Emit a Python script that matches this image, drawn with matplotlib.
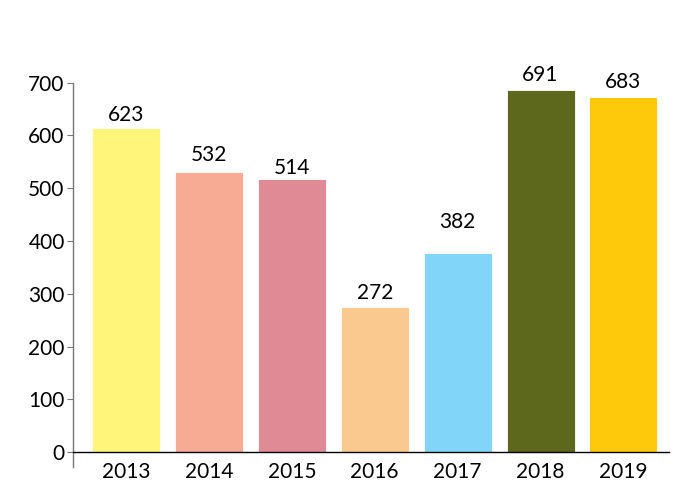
import numpy as np
import matplotlib
matplotlib.use("Agg")
import matplotlib.pyplot as plt

# data
years = ["2013", "2014", "2015", "2016", "2017", "2018", "2019"]
heights = [615, 531, 517, 275, 377, 687, 673]
labels = ["623", "532", "514", "272", "382", "691", "683"]
colors = ["#FFF57B", "#F8AB94", "#DF8A94", "#FAC990", "#81D5F8", "#5E681D", "#FEC90B"]
yticks = [0, 100, 200, 300, 400, 500, 600, 700]

# distance from bar top to label centre, in points
label_gap = [9, 12, 8, 10.3, 22.7, 10.3, 11]

plt.rcParams['font.family'] = ['Lato', 'DejaVu Sans']

fig = plt.figure(figsize=(6.96, 5.04), dpi=100)
ax = fig.add_axes([73 / 696, (504 - 467) / 504, 596 / 696, (467 - 82.7) / 504])

x = np.arange(len(years))
bars = ax.bar(x, heights, width=0.82, color=colors, edgecolor="white", linewidth=0.6)

for b, lab, g in zip(bars, labels, label_gap):
    ax.annotate(lab, (b.get_x() + b.get_width() / 2, b.get_height()),
                xytext=(0, g), textcoords="offset points",
                ha="center", va="center", fontsize=15)

ax.set_xlim(-0.64, 6.55)
ax.set_ylim(-28, 700)
ax.set_yticks(yticks)
ax.set_xticks(x)
ax.set_xticklabels(years)
ax.tick_params(axis="y", labelsize=15, length=4, color="#777777", pad=2)
ax.tick_params(axis="x", labelsize=15, length=0, pad=7)

for s in ["top", "right"]:
    ax.spines[s].set_visible(False)
ax.spines["bottom"].set_position(("data", 0))
ax.spines["bottom"].set_color("black")
ax.spines["bottom"].set_linewidth(1.0)
ax.spines["left"].set_color("#777777")
ax.spines["left"].set_linewidth(1.0)

fig.savefig("out.png", dpi=100)
